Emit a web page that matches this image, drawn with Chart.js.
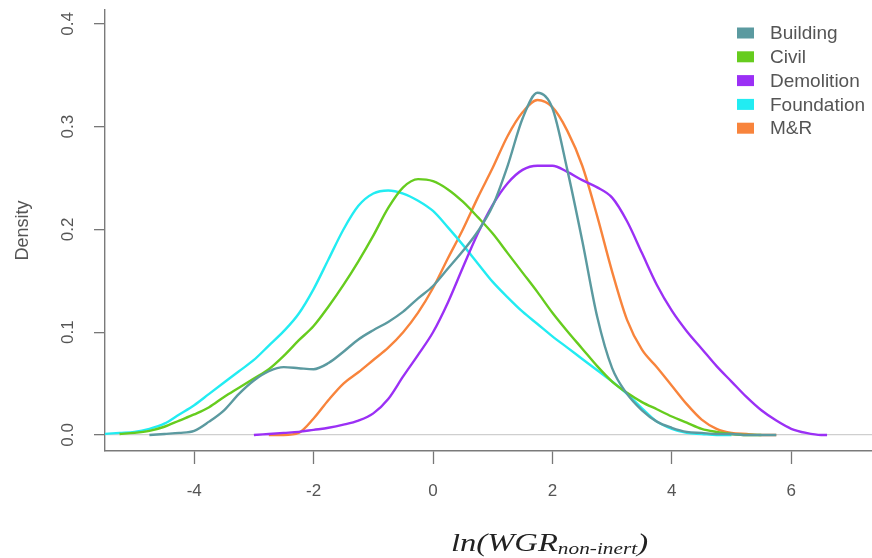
<!DOCTYPE html>
<html>
<head>
<meta charset="utf-8">
<script src="https://cdn.jsdelivr.net/npm/chart.js@4.4.0/dist/chart.umd.min.js"></script>
<style>
  html, body { margin: 0; padding: 0; background: #fff; }
  #wrap { width: 872px; height: 558px; }
</style>
</head>
<body>
<div id="wrap"><canvas id="densityChart"></canvas></div>
<script>
const gridX = [-5.5, -5.25, -5, -4.75, -4.5, -4.25, -4, -3.75, -3.5, -3.25,
  -3, -2.75, -2.5, -2.25, -2, -1.75, -1.5, -1.25, -1, -0.75,
  -0.5, -0.25, 0, 0.25, 0.5, 0.75, 1, 1.25, 1.5, 1.75,
  2, 2.25, 2.5, 2.75, 3, 3.25, 3.5, 3.75, 4, 4.25,
  4.5, 4.75, 5, 5.25, 5.5, 5.75, 6, 6.25, 6.5, 6.6];

const building = [null, null, null, 0.0, 0.001, 0.002, 0.004, 0.013, 0.024, 0.04,
  0.053, 0.062, 0.066, 0.065, 0.064, 0.07, 0.081, 0.093, 0.102, 0.11,
  0.12, 0.133, 0.145, 0.162, 0.179, 0.198, 0.223, 0.262, 0.308, 0.333,
  0.318, 0.258, 0.189, 0.115, 0.065, 0.04, 0.024, 0.013, 0.007, 0.003,
  0.002, 0.001, 0.001, 0.0, 0.0, 0.0, null, null, null, null];

const civil = [null, 0.001, 0.002, 0.004, 0.008, 0.014, 0.02, 0.027, 0.037, 0.046,
  0.055, 0.064, 0.077, 0.092, 0.106, 0.125, 0.146, 0.169, 0.194, 0.221,
  0.241, 0.249, 0.247, 0.239, 0.227, 0.212, 0.196, 0.177, 0.158, 0.139,
  0.119, 0.101, 0.084, 0.067, 0.052, 0.041, 0.032, 0.025, 0.018, 0.012,
  0.006, 0.003, 0.001, 0.0, 0.0, null, null, null, null, null];

const demolition = [null, null, null, null, null, null, null, null, null, null,
  0.0, 0.001, 0.002, 0.003, 0.005, 0.007, 0.01, 0.014, 0.021, 0.035,
  0.057, 0.078, 0.1, 0.129, 0.163, 0.196, 0.224, 0.245, 0.258, 0.262,
  0.262, 0.256, 0.248, 0.241, 0.231, 0.208, 0.177, 0.146, 0.121, 0.101,
  0.084, 0.067, 0.052, 0.037, 0.024, 0.014, 0.006, 0.002, 0.0, 0.0];

const foundation = [0.001, 0.002, 0.003, 0.006, 0.011, 0.02, 0.029, 0.04, 0.051, 0.062,
  0.073, 0.087, 0.101, 0.118, 0.142, 0.171, 0.2, 0.223, 0.235, 0.238,
  0.235, 0.228, 0.218, 0.202, 0.185, 0.167, 0.149, 0.134, 0.12, 0.108,
  0.096, 0.085, 0.074, 0.063, 0.052, 0.04, 0.026, 0.013, 0.006, 0.002,
  0.001, 0.0, 0.0, null, null, null, null, null, null, null];

const mr = [null, null, null, null, null, null, null, null, null, null,
  null, 0.0, 0.0, 0.002, 0.016, 0.034, 0.05, 0.061, 0.073, 0.085,
  0.1, 0.119, 0.143, 0.172, 0.2, 0.231, 0.26, 0.291, 0.314, 0.326,
  0.319, 0.296, 0.262, 0.213, 0.159, 0.112, 0.083, 0.066, 0.048, 0.03,
  0.015, 0.006, 0.002, 0.001, 0.0, 0.0, null, null, null, null];

const seriesNames = ['Building', 'Civil', 'Demolition', 'Foundation', 'M&R'];
const seriesValues = [building, civil, demolition, foundation, mr];
const seriesColors = ['#5b9aa0', '#66cc1e', '#9b30f5', '#22ecf2', '#f8843c'];

const xTicks = [-4, -2, 0, 2, 4, 6];
const yTicks = [0, 0.1, 0.2, 0.3, 0.4];
const xTitle = 'ln(WGR';
const xTitleSub = 'non-inert';
const yTitle = 'Density';

const datasets = seriesNames.map((name, i) => ({
  label: name,
  data: gridX.map((x, j) => ({ x: x, y: seriesValues[i][j] })).filter(p => p.y !== null),
  borderColor: seriesColors[i],
  backgroundColor: seriesColors[i],
  borderWidth: 2.4,
  pointRadius: 0,
  showLine: true,
  cubicInterpolationMode: 'monotone'
}));

const sans = '"Liberation Sans", Arial, sans-serif';

const extras = {
  id: 'extras',
  afterDraw(chart) {
    const ctx = chart.ctx;
    const ys = chart.scales.y;
    const area = chart.chartArea;
    ctx.save();

    // y tick labels, rotated like base R
    ctx.fillStyle = '#555';
    ctx.font = '17px ' + sans;
    ctx.textAlign = 'center';
    ctx.textBaseline = 'middle';
    ys.ticks.forEach(t => {
      ctx.save();
      ctx.translate(68, ys.getPixelForValue(t.value));
      ctx.rotate(-Math.PI / 2);
      ctx.fillText(t.value.toFixed(1), 0, 0);
      ctx.restore();
    });

    // y title
    ctx.save();
    ctx.font = '18px ' + sans;
    ctx.translate(23, (area.top + area.bottom) / 2);
    ctx.rotate(-Math.PI / 2);
    ctx.fillText(yTitle, 0, 0);
    ctx.restore();

    // legend (no box), top right
    ctx.textAlign = 'left';
    ctx.font = '19px ' + sans;
    chart.data.datasets.forEach((ds, i) => {
      const cy = 33 + i * 23.8;
      ctx.fillStyle = ds.borderColor;
      ctx.fillRect(737, cy - 5.5, 17, 11);
      ctx.fillStyle = '#555';
      ctx.fillText(ds.label, 770, cy + 1);
    });

    // x title with subscript
    const mainFont = 'italic 26px "Liberation Serif", "Times New Roman", serif';
    const subFont = 'italic 17px "Liberation Serif", "Times New Roman", serif';
    ctx.font = mainFont;
    const w1 = ctx.measureText(xTitle).width;
    const w3 = ctx.measureText(')').width;
    ctx.font = subFont;
    const w2 = ctx.measureText(xTitleSub).width;
    const k = 197 / (w1 + w2 + w3);
    ctx.translate(451, 0);
    ctx.scale(k, 1);
    ctx.fillStyle = '#222';
    ctx.textBaseline = 'alphabetic';
    ctx.font = mainFont;
    ctx.fillText(xTitle, 0, 551);
    ctx.font = subFont;
    ctx.fillText(xTitleSub, w1, 554);
    ctx.font = mainFont;
    ctx.fillText(')', w1 + w2, 551);
    ctx.restore();
  }
};

new Chart(document.getElementById('densityChart'), {
  type: 'scatter',
  data: { datasets },
  options: {
    responsive: true,
    maintainAspectRatio: false,
    animation: false,
    layout: { padding: { top: 10, left: 0, right: 0, bottom: 0 } },
    plugins: { legend: { display: false }, tooltip: { enabled: false } },
    scales: {
      x: {
        type: 'linear',
        min: -5.494,
        max: 7.353,
        afterBuildTicks: s => { s.ticks = xTicks.map(v => ({ value: v })); },
        afterFit: s => { s.height = 107; },
        grid: { drawOnChartArea: false, drawTicks: true, tickLength: 13, tickColor: '#777', tickWidth: 1.3 },
        border: { display: true, color: '#7a7a7a', width: 1.4 },
        ticks: { color: '#555', padding: 17, font: { size: 17, family: sans }, maxRotation: 0 }
      },
      y: {
        type: 'linear',
        min: -0.0156,
        max: 0.4136,
        afterBuildTicks: s => { s.ticks = yTicks.map(v => ({ value: v })); },
        afterFit: s => { s.width = 105; },
        grid: {
          color: c => (c.tick && c.tick.value === 0 ? '#cfcfcf' : 'rgba(0,0,0,0)'),
          lineWidth: 1.3,
          drawTicks: true,
          tickLength: 11,
          tickColor: '#777',
          tickWidth: 1.3
        },
        border: { display: true, color: '#7a7a7a', width: 1.4 },
        ticks: { display: false }
      }
    }
  },
  plugins: [extras]
});
</script>
</body>
</html>
